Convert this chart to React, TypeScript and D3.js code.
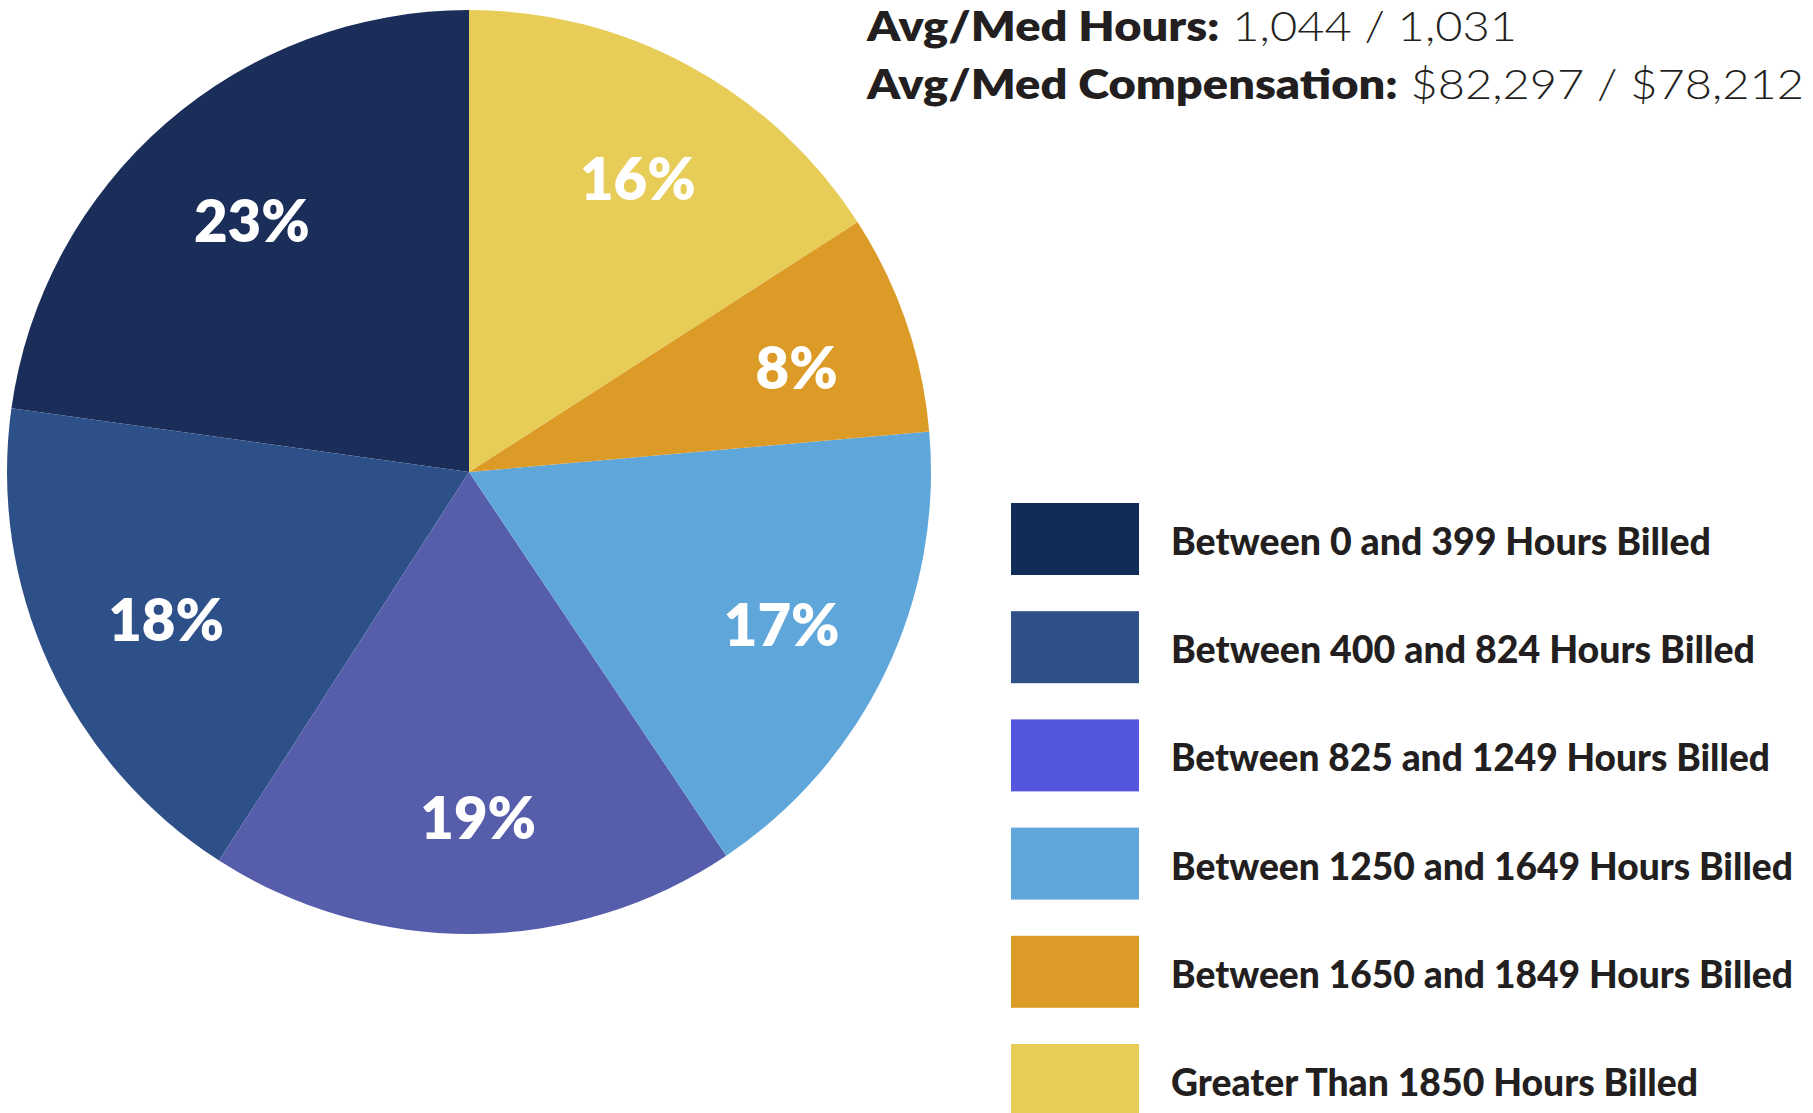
import React from "react";
import * as d3 from "d3";

const categories = [
  "Between 0 and 399 Hours Billed",
  "Between 400 and 824 Hours Billed",
  "Between 825 and 1249 Hours Billed",
  "Between 1250 and 1649 Hours Billed",
  "Between 1650 and 1849 Hours Billed",
  "Greater Than 1850 Hours Billed",
];
const shares = [22.8, 18.1, 18.5, 17.0, 7.7, 15.9];
const sliceLabels = ["23%", "18%", "19%", "17%", "8%", "16%"];
const pieColors = ["#1b2e59", "#2d5088", "#565eab", "#5fa6da", "#dc9b27", "#e7cd57"];
const legendColors = ["#0f2d57", "#2d5088", "#5457dd", "#5fa6da", "#dc9b27", "#e7cd57"];
const headerBold = ["Avg/Med Hours:", "Avg/Med Compensation:"];
const headerValues = ["1,044 / 1,031", "$82,297 / $78,212"];

const W = 1813;
const H = 1113;
const cx = 469;
const cy = 472;
const R = 462;
const labelR = 340;
const FONT = "Lato, 'Open Sans', sans-serif";

export default function App() {
  const pie = d3
    .pie<number>()
    .sort(null)
    .startAngle(Math.PI * 2)
    .endAngle(0)
    .value((d) => d);
  const arcs = pie(shares);
  const arc = d3.arc<d3.PieArcDatum<number>>().innerRadius(0).outerRadius(R);
  const labelArc = d3.arc<d3.PieArcDatum<number>>().innerRadius(labelR).outerRadius(labelR);

  const legendY = d3
    .scaleBand<number>()
    .domain(d3.range(categories.length))
    .range([503, 503 + 108.2 * 6])
    .paddingInner(0);
  const legendWidths = [540, 584, 599, 622, 622, 527];

  return (
    <svg
      width={W}
      height={H}
      style={{ position: "absolute", left: 0, top: 0, background: "#fff" }}
      fontFamily={FONT}
    >
      <rect width={W} height={H} fill="#fff" />
      <g transform={`translate(${cx},${cy})`}>
        {arcs.map((a, i) => (
          <path key={i} d={arc(a) || ""} fill={pieColors[i]} />
        ))}
        {arcs.map((a, i) => {
          const [x, y] = labelArc.centroid(a);
          return (
            <text
              key={i}
              x={x + 6}
              y={y + 6}
              dy="0.36em"
              textAnchor="middle"
              fill="#fff"
              fontWeight={800}
              fontSize={58}
            >
              {sliceLabels[i]}
            </text>
          );
        })}
      </g>
      {headerBold.map((b, i) => (
        <text
          key={i}
          x={867}
          y={41 + i * 58}
          fontSize={42}
          fill="#231f20"
          textLength={i === 0 ? 650 : 937}
          lengthAdjust="spacingAndGlyphs"
        >
          <tspan fontWeight={800}>{b}</tspan>
          <tspan fontWeight={300} fill="#231f20"> {headerValues[i]}</tspan>
        </text>
      ))}
      {categories.map((c, i) => {
        const y0 = legendY(i) as number;
        return (
          <g key={i}>
            <rect x={1011} y={y0} width={128} height={72} fill={legendColors[i]} />
            <text
              x={1171}
              y={y0 + 52}
              fontSize={38}
              fontWeight={900}
              fill="#231f20"
              textLength={legendWidths[i]}
              lengthAdjust="spacingAndGlyphs"
            >
              {c}
            </text>
          </g>
        );
      })}
    </svg>
  );
}
